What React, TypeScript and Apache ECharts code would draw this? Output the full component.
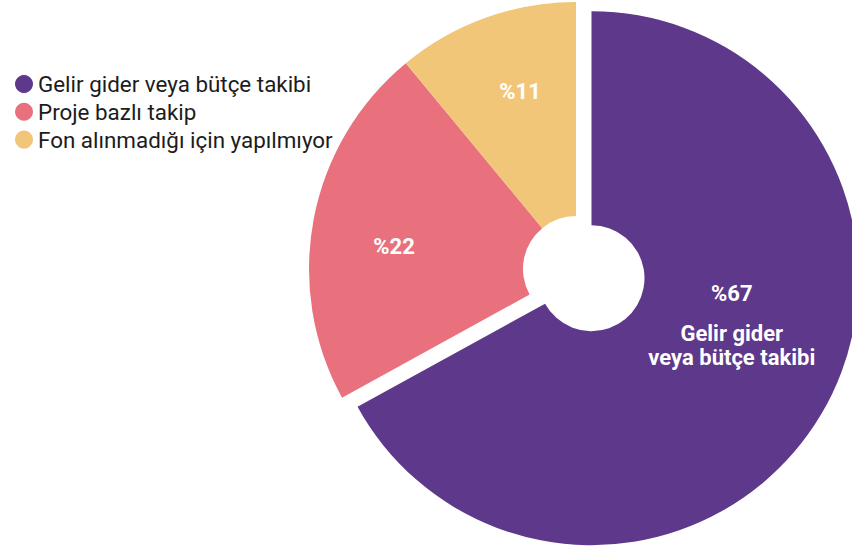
import React, { useEffect, useRef } from "react";
import * as echarts from "echarts";

const categories = ["Gelir gider veya bütçe takibi", "Proje bazlı takip", "Fon alınmadığı için yapılmıyor"];
const values = [67, 22, 11];
const colors = ["#5E388A", "#E9717E", "#F2C678"];
const labelTexts = ["{a|%67}\n{b|Gelir gider}\n{b|veya bütçe takibi}", "{a|%22}", "{a|%11}"];
const labelPositions: (number[] | null)[] = [null, [394, 246], [520, 91]];

export default function App() {
  const ref = useRef<HTMLDivElement>(null);
  useEffect(() => {
    if (!ref.current) return;
    const chart = echarts.init(ref.current, null, { renderer: "svg" });
    const font = "Roboto";
    chart.setOption({
      animation: false,
      backgroundColor: "#ffffff",
      legend: {
        orient: "vertical",
        left: 10,
        top: 68,
        icon: "circle",
        itemWidth: 18,
        itemHeight: 18,
        itemGap: 5.8,
        selectedMode: false,
        data: categories,
        textStyle: { fontFamily: font, fontSize: 22.4, color: "#1c1c1c" },
      },
      series: [
        {
          type: "pie",
          center: [576, 269],
          radius: [53, 267],
          startAngle: 90,
          clockwise: true,
          selectedMode: "single",
          selectedOffset: 18,
          avoidLabelOverlap: false,
          emphasis: { disabled: true },
          itemStyle: { borderWidth: 0 },
          label: {
            show: true,
            position: "inside",
            align: "center",
            rich: {
              a: { fontFamily: font, fontSize: 22, fontWeight: "bold", color: "#ffffff", lineHeight: 56, align: "center" },
              b: { fontFamily: font, fontSize: 22, fontWeight: "bold", color: "#ffffff", lineHeight: 24, align: "center" },
            },
          },
          labelLine: { show: false },
          labelLayout: (p: any) => {
            const pos = labelPositions[p.dataIndex];
            if (!pos) return {};
            return { x: pos[0], y: pos[1], align: "center", verticalAlign: "middle" };
          },
          data: categories.map((name, i) => ({
            name,
            value: values[i],
            selected: i === 0,
            itemStyle: { color: colors[i] },
            label: i === 0
              ? { formatter: labelTexts[i], padding: [0, 0, 88, 0] }
              : { formatter: labelTexts[i] },
          })),
        },
      ],
    });
    return () => chart.dispose();
  }, []);
  return <div ref={ref} style={{ position: "fixed", left: 0, top: 0, width: 852, height: 548 }} />;
}
